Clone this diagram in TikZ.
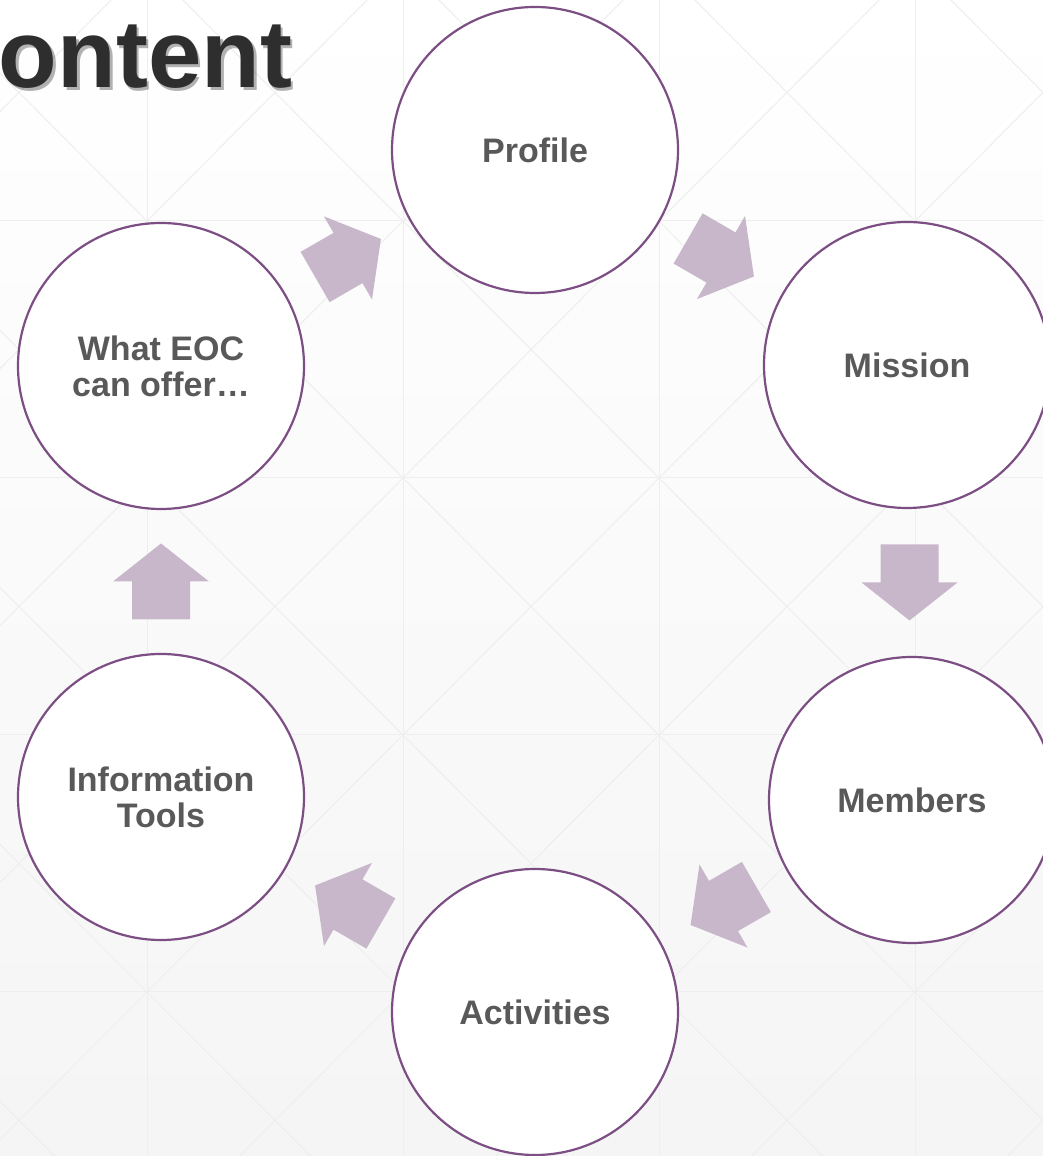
\documentclass[tikz,border=0pt]{standalone}
\usepackage{fontspec}
\setmainfont{Liberation Sans}
\usepackage{tikz}
\usetikzlibrary{calc}

\definecolor{ringcol}{RGB}{124,78,132}
\definecolor{flowcol}{RGB}{200,183,202}
\definecolor{labelcol}{RGB}{89,89,89}
\definecolor{titlecol}{RGB}{46,46,46}
\definecolor{gridcol}{RGB}{238,238,238}

\tikzset{
  gridline/.style={draw=gridcol,line width=1pt},
  topic/.style={circle,draw=ringcol,line width=2.2pt,fill=white,
    minimum size=286pt,inner sep=0pt,align=center,text=labelcol,
    font=\fontsize{34}{36}\selectfont\bfseries},
  pics/flowarrow/.style={code={
    \fill[flowcol] (-38,-29) -- (0,-29) -- (0,-48) -- (38,0)
      -- (0,48) -- (0,29) -- (-38,29) -- cycle;
  }}
}

\begin{document}
\begin{tikzpicture}[x=1pt,y=1pt]
        \useasboundingbox (0,0) rectangle (1043,1156);
        \clip (0,0) rectangle (1043,1156);
        % background
        \shade[top color=white,middle color=white,bottom color=black!4] (0,0) rectangle (1043,1156);
        % routine for grid
        \foreach \gx in {147,403,659,915} \draw[gridline] (\gx,0) -- (\gx,1156);
        \foreach \gy in {164,421,678,935} \draw[gridline] (0,\gy) -- (1043,\gy);
        \foreach \gx in {-109,147,...,915}
          \foreach \gy in {-93,164,...,935} {
            \draw[gridline] (\gx,\gy) -- ++(256,257);
            \draw[gridline] (\gx,\gy+257) -- ++(256,-257);
          }
        % title, cut at the left edge
        \node (titleshadow) [anchor=base west,text=black,opacity=0.3,font=\fontsize{96}{100}\selectfont\bfseries] at (-71.5,1065) {Content};
        \node (title) [anchor=base west,text=titlecol,font=\fontsize{96}{100}\selectfont\bfseries] at (-74,1068) {Content};
        % the six topics
        \node (profile)    [topic] at (535,1006) {Profile};
        \node (mission)    [topic] at (907,791)  {Mission};
        \node (members)    [topic] at (912,356)  {Members};
        \node (activities) [topic] at (535,144)  {Activities};
        \node (infotools)  [topic] at (161,359)  {Information\\Tools};
        \node (offer)      [topic] at (161,790)  {What EOC\\can offer…};
        % arrows between topics
        \pic[rotate=30]  at ($(offer)!0.5!(profile)$)       {flowarrow};
        \pic[rotate=-30] at ($(profile)!0.5!(mission)$)     {flowarrow};
        \pic[rotate=-90] at ($(mission)!0.5!(members)$)     {flowarrow};
        \pic[rotate=210] at ($(members)!0.5!(activities)$)  {flowarrow};
        \pic[rotate=150] at ($(activities)!0.5!(infotools)$) {flowarrow};
        \pic[rotate=90]  at ($(infotools)!0.5!(offer)$)     {flowarrow};
      \end{tikzpicture}
\end{document}
